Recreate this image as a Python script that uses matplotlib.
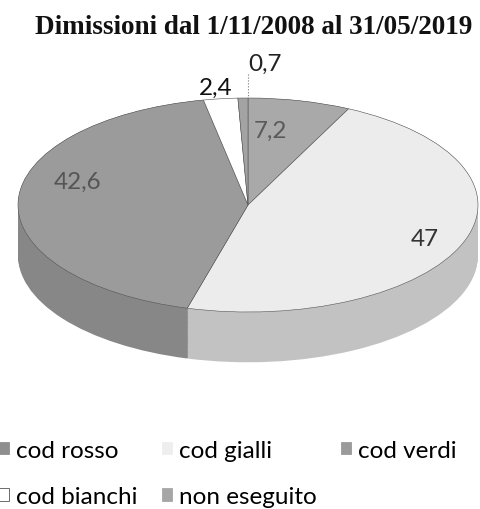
# Dimissioni dal 1/11/2008 al 31/05/2019 - torta 3D (scansione in grigi)
import matplotlib
matplotlib.use("Agg")
import matplotlib.pyplot as plt
from matplotlib.patches import Patch

categorie = ["cod rosso", "cod gialli", "cod verdi", "cod bianchi", "non eseguito"]
valori = [7.2, 47, 42.6, 2.4, 0.7]
etichette = ["7,2", "47", "42,6", "2,4", "0,7"]

col_sopra = ["#a9a9a9", "#ececec", "#9b9b9b", "#ffffff", "#a3a3a3"]
col_lato = ["#8f8f8f", "#c2c2c2", "#878787", "#dddddd", "#8f8f8f"]
col_legenda = ["#8e8e8e", "#eeeeee", "#9a9a9a", "#ffffff", "#a6a6a6"]

# posizioni delle etichette (unita' del grafico)
pos_etichette = [(0.10, 0.70), (0.77, -0.31), (-0.74, 0.22), (-0.14, 1.10), (0.075, 1.32)]
col_testo = ["#5a5a5a", "#333333", "#555555", "#111111", "#222222"]

fig = plt.figure(figsize=(4.81, 5.10), dpi=100)
ax = fig.add_axes([0, 0, 1, 1])

spessore = 0.47
n = 40
for i in range(n + 1):
    d = spessore * (1 - i / n)
    ax.pie(valori, startangle=90, counterclock=False, colors=col_lato,
           center=(0, -d), radius=1, frame=True,
           wedgeprops=dict(linewidth=0))

ax.pie(valori, startangle=90, counterclock=False, colors=col_sopra,
       center=(0, 0), radius=1, frame=True,
       wedgeprops=dict(linewidth=0.4, edgecolor="#555555"))

for (x, y), t, c in zip(pos_etichette, etichette, col_testo):
    ax.text(x, y, t, ha="center", va="center", fontsize=17.5, color=c,
            family="Lato")

# linea guida per 0,7
ax.plot([0.0, 0.0], [1.22, 0.99], color="#777777", lw=0.8, ls=":")

ax.set_aspect("auto")
ax.set_xlim(-248 / 230, 233 / 230)
ax.set_ylim(-304 / 107, 206 / 107)
ax.axis("off")

fig.text(0.527, 0.947, "Dimissioni dal 1/11/2008 al 31/05/2019",
         ha="center", va="center", fontsize=19.5, fontweight="bold",
         family="Liberation Serif", color="#111111")

ordine = [0, 3, 1, 4, 2]
maniglie = [Patch(facecolor=col_legenda[i], edgecolor="#555555" if i == 3 else col_legenda[i],
                  linewidth=0.6, label=categorie[i]) for i in ordine]
fig.legend(handles=maniglie, loc="upper left", bbox_to_anchor=(-0.022, 0.155),
           ncol=3, frameon=False, handlelength=0.4, handleheight=0.4,
           handletextpad=0.3, columnspacing=1.0, labelspacing=1.05,
           borderaxespad=0, prop=dict(family="Lato", size=17.5))

fig.savefig("out.png", dpi=100)
